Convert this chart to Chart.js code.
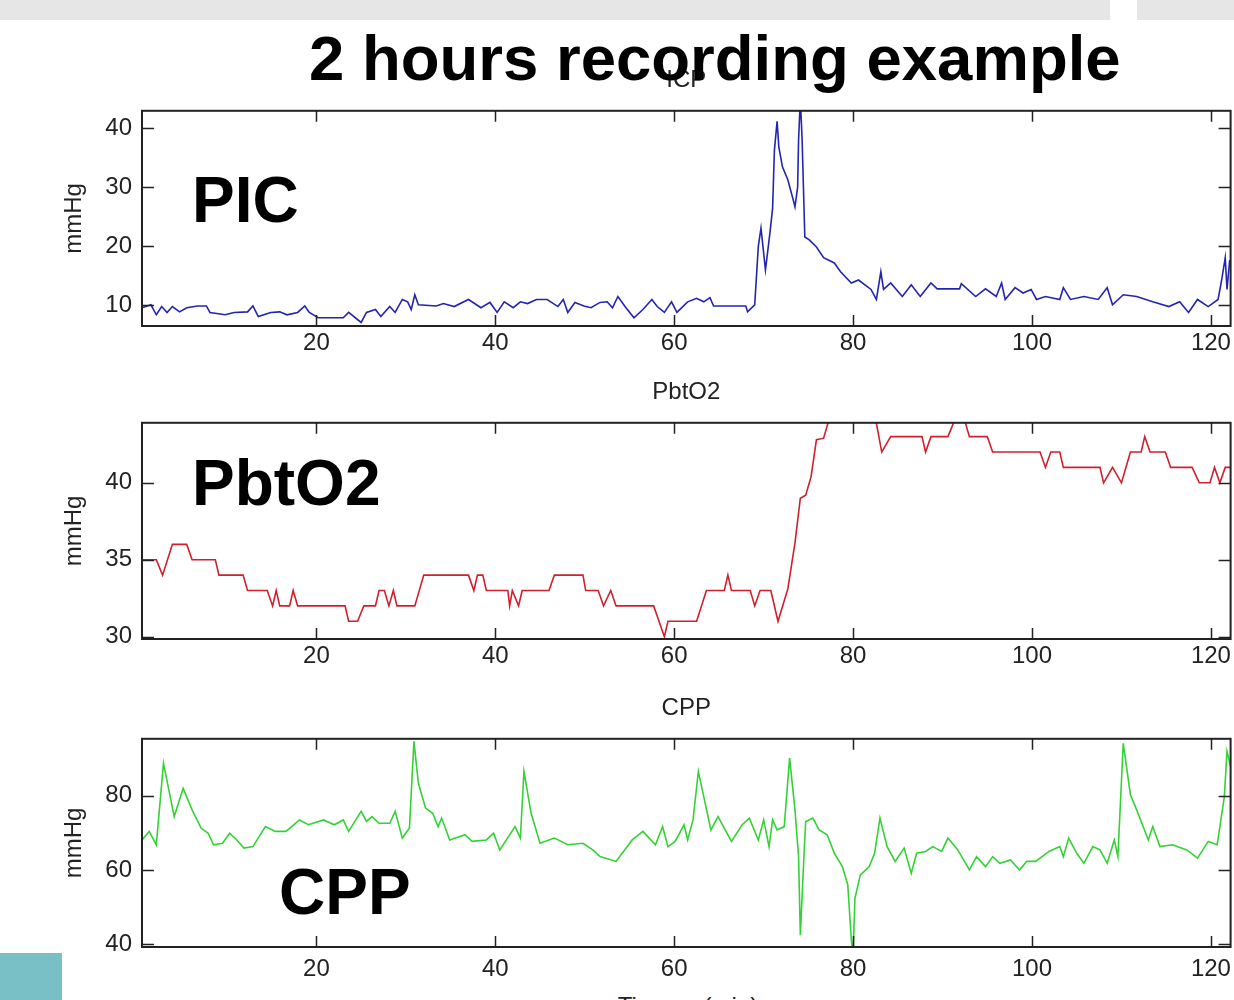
<!DOCTYPE html>
<html>
<head>
<meta charset="utf-8">
<script src="https://cdn.jsdelivr.net/npm/chart.js@4.4.1/dist/chart.umd.min.js"></script>
<style>
  html, body { margin: 0; padding: 0; background: #fff; overflow: hidden; }
  body { width: 1234px; height: 1000px; position: relative; font-family: "Liberation Sans", Arial, sans-serif; }
  .band { position: absolute; top: 0; height: 20px; background: #e6e6e6; }
  .panel { position: absolute; left: 0; width: 1234px; }
  .panel canvas { display: block; }
  .big { position: absolute; font-weight: bold; font-size: 64px; line-height: 1; color: #000; white-space: nowrap; z-index: 2; }
  .xlabel { position: absolute; left: 0; width: 1376px; top: 994px; text-align: center; font-size: 24px; line-height: 1; color: #222; }
  .teal { position: absolute; left: 0; top: 953px; width: 62px; height: 47px; background: #79c0c6; z-index: 2; }
</style>
</head>
<body>
<div class="band" style="left:0; width:1110px"></div>
<div class="band" style="left:1137px; width:97px"></div>

<div class="panel" style="top:66px"><canvas id="icpChart" width="1234" height="300"></canvas></div>
<div class="panel" style="top:378px"><canvas id="pbto2Chart" width="1234" height="301"></canvas></div>
<div class="panel" style="top:694px"><canvas id="cppChart" width="1234" height="293"></canvas></div>

<div class="big" style="left:309px; top:27px; font-size:63.5px">2 hours recording example</div>
<div class="big" style="left:192px; top:168px">PIC</div>
<div class="big" style="left:192px; top:451px">PbtO2</div>
<div class="big" style="left:279px; top:860px">CPP</div>
<div class="xlabel">Tiempo (min)</div>
<div class="teal"></div>

<script>
// x axis (minutes)
const xTicks = [20, 40, 60, 80, 100, 120];

// ICP
const icpTime = [
  0.5, 1.5, 2.1, 2.7, 3.3, 3.9, 4.7, 5.5, 6.7, 7.7,
  8.1, 9.8, 10.8, 12.3, 12.9, 13.5, 14.9, 15.9, 16.7, 17.9,
  18.7, 19.2, 20.2, 23.0, 23.6, 25.0, 25.6, 26.6, 27.2, 28.2,
  28.8, 29.6, 30.2, 30.6, 31.0, 31.4, 33.4, 34.2, 35.4, 37.0,
  38.4, 39.4, 40.2, 41.0, 42.0, 42.8, 43.6, 44.6, 45.8, 47.0,
  47.6, 48.1, 48.9, 49.9, 50.7, 51.7, 52.5, 53.1, 53.7, 54.5,
  55.5, 56.5, 57.5, 58.1, 58.9, 59.7, 60.3, 61.5, 62.5, 63.3,
  64.0, 64.4, 68.0, 68.2, 69.0, 69.4, 69.7, 70.2, 70.7, 71.0,
  71.2, 71.5, 71.7, 72.1, 72.7, 73.3, 73.5, 73.8, 73.9, 74.1,
  74.3, 74.6, 75.1, 75.9, 76.7, 77.9, 78.6, 79.8, 80.6, 82.0,
  82.6, 83.1, 83.4, 84.2, 85.5, 86.5, 87.5, 88.7, 89.4, 91.9,
  92.1, 93.7, 94.8, 96.0, 96.6, 97.0, 98.1, 99.0, 99.9, 100.5,
  101.5, 103.1, 103.5, 104.3, 105.8, 107.4, 108.4, 109.0, 110.2, 111.7,
  113.5, 115.3, 116.5, 117.5, 118.5, 119.7, 120.8, 121.2, 121.6, 121.8,
  122.1
];
const icpValues = [
  9.6, 10.1, 8.4, 9.8, 8.8, 9.8, 8.9, 9.6, 9.9, 9.9,
  8.8, 8.4, 8.8, 8.9, 9.9, 8.1, 8.8, 8.9, 8.4, 8.8,
  9.9, 8.8, 7.9, 7.9, 8.8, 7.1, 8.8, 9.3, 8.1, 9.8,
  8.8, 11.0, 10.6, 9.3, 11.8, 10.1, 9.9, 10.3, 9.8, 11.0,
  9.6, 10.5, 8.8, 10.6, 9.6, 10.6, 10.3, 11.0, 11.0, 9.8,
  11.0, 8.8, 10.5, 9.9, 9.6, 10.5, 10.6, 9.6, 11.5, 9.8,
  7.9, 9.3, 11.0, 9.8, 8.8, 10.6, 8.8, 10.6, 11.2, 10.6,
  11.3, 9.9, 9.9, 8.9, 10.1, 20.0, 23.1, 16.0, 22.3, 26.5,
  36.3, 41.2, 36.8, 33.5, 31.3, 27.9, 26.7, 30.1, 38.0, 45.0,
  38.0, 21.6, 21.1, 19.9, 18.1, 17.2, 15.7, 13.8, 14.3, 12.7,
  11.0, 15.7, 12.7, 13.8, 11.5, 13.5, 11.5, 13.8, 12.8, 12.8,
  13.7, 11.5, 12.8, 11.5, 13.8, 11.0, 13.0, 12.1, 12.7, 11.0,
  11.5, 11.0, 13.0, 11.0, 11.5, 11.0, 13.0, 10.1, 11.8, 11.5,
  10.6, 9.8, 10.6, 8.8, 11.0, 9.8, 11.0, 14.3, 18.1, 12.7,
  17.7
];
const icpTicks = [10, 20, 30, 40];

// PbtO2
const pbto2Time = [
  0.5, 2.1, 2.8, 3.9, 5.5, 6.1, 8.7, 9.1, 11.8, 12.3,
  14.5, 15.1, 15.5, 15.9, 17.0, 17.4, 17.9, 23.2, 23.6, 24.6,
  25.3, 26.6, 27.0, 27.6, 28.1, 28.6, 29.0, 31.0, 32.0, 37.0,
  37.6, 38.0, 38.6, 39.0, 41.4, 41.6, 41.9, 42.6, 43.0, 46.0,
  46.6, 49.8, 50.1, 51.5, 52.1, 52.9, 53.5, 57.7, 58.3, 58.9,
  59.3, 62.5, 63.6, 65.6, 66.0, 66.4, 68.5, 69.0, 69.6, 70.8,
  71.6, 72.7, 73.5, 74.1, 74.7, 75.3, 75.9, 76.7, 77.5, 80.0,
  82.4, 83.2, 84.2, 87.7, 88.1, 88.7, 90.6, 91.3, 92.5, 93.0,
  95.0, 95.6, 100.9, 101.5, 102.1, 103.1, 103.5, 107.6, 108.0, 109.0,
  110.0, 111.0, 112.2, 112.6, 113.2, 114.9, 115.5, 117.9, 118.7, 119.9,
  120.4, 121.0, 121.6, 122.2
];
const pbto2Values = [
  35, 35, 34, 36, 36, 35, 35, 34, 34, 33,
  33, 32, 33, 32, 32, 33, 32, 32, 31, 31,
  32, 32, 33, 33, 32, 33, 32, 32, 34, 34,
  33, 34, 34, 33, 33, 32, 33, 32, 33, 33,
  34, 34, 33, 33, 32, 33, 32, 32, 31, 30,
  31, 31, 33, 33, 34, 33, 33, 32, 33, 33,
  31, 33.1, 36.1, 39, 39.2, 40.4, 42.8, 42.9, 44.5, 45,
  44.5, 42, 43, 43, 42, 43, 43, 44, 44, 43,
  43, 42, 42, 41, 42, 42, 41, 41, 40, 41,
  40, 42, 42, 43, 42, 42, 41, 41, 40, 40,
  41, 40, 41, 41
];
const pbto2Ticks = [30, 35, 40];

// CPP
const cppTime = [
  0.5, 1.3, 2.1, 2.9, 3.5, 4.1, 5.1, 6.1, 7.1, 7.9,
  8.5, 9.5, 10.3, 11.1, 11.9, 12.9, 14.3, 15.4, 16.6, 18.1,
  19.1, 20.8, 22.0, 23.0, 23.6, 25.0, 25.6, 26.2, 27.0, 28.2,
  28.8, 29.6, 30.4, 30.9, 31.4, 32.2, 33.0, 33.6, 34.0, 34.9,
  36.6, 37.4, 39.0, 39.8, 40.5, 42.2, 42.8, 43.2, 44.0, 45.0,
  46.6, 48.1, 49.8, 50.9, 51.7, 53.5, 55.3, 56.5, 57.9, 58.7,
  59.3, 60.1, 61.1, 61.5, 62.1, 62.7, 63.3, 64.1, 64.9, 66.4,
  67.6, 68.4, 69.4, 70.0, 70.6, 71.0, 71.5, 72.3, 72.9, 73.5,
  73.9, 74.1, 74.5, 74.7, 75.5, 76.2, 77.1, 77.9, 78.8, 79.4,
  79.8, 80.0, 80.2, 80.8, 81.8, 82.4, 83.0, 83.8, 84.7, 85.7,
  86.5, 87.1, 88.1, 88.9, 89.9, 90.6, 91.7, 93.0, 93.8, 94.8,
  95.6, 96.4, 97.6, 98.6, 99.4, 100.4, 101.9, 103.1, 103.5, 104.1,
  105.0, 105.8, 106.8, 107.6, 108.4, 109.2, 109.6, 110.2, 111.0, 111.7,
  113.0, 113.5, 114.3, 115.7, 117.3, 118.5, 119.7, 120.7, 121.5, 121.8,
  122.2
];
const cppValues = [
  68.1, 70.4, 66.8, 88.8, 81.6, 74.4, 82.0, 76.2, 71.3, 69.9,
  66.8, 67.2, 69.9, 68.1, 65.9, 66.3, 71.7, 70.4, 70.4, 73.5,
  72.2, 73.5, 72.2, 73.5, 70.4, 75.8, 73.1, 74.4, 72.6, 72.6,
  75.8, 68.6, 71.3, 94.7, 83.4, 76.7, 75.3, 71.7, 74.0, 68.1,
  69.5, 67.7, 68.1, 69.9, 65.4, 71.7, 68.6, 86.6, 75.3, 67.2,
  68.6, 66.8, 67.2, 65.4, 63.6, 62.3, 68.1, 70.4, 66.8, 71.7,
  66.3, 67.7, 72.2, 68.1, 73.5, 86.6, 79.8, 70.8, 74.4, 67.7,
  72.2, 74.0, 68.1, 73.5, 66.3, 73.5, 70.8, 71.7, 90.2, 76.2,
  63.6, 42.4, 63.6, 73.1, 74.0, 70.8, 69.5, 64.5, 60.9, 56.0,
  41.1, 37.0, 52.3, 58.6, 60.9, 64.5, 74.0, 66.3, 62.3, 65.9,
  59.1, 64.5, 65.0, 66.3, 65.0, 68.6, 65.4, 60.0, 63.6, 60.9,
  63.6, 61.8, 62.7, 60.0, 62.3, 62.3, 65.0, 66.3, 63.6, 68.6,
  64.5, 61.8, 66.3, 65.4, 61.8, 68.1, 63.6, 94.2, 80.3, 76.2,
  68.1, 71.7, 66.3, 66.8, 65.4, 63.2, 67.7, 66.8, 79.8, 92.0,
  88.0
];
const cppTicks = [40, 60, 80];

const tickFont = {family: "'Liberation Sans', Arial, sans-serif", size: 24, weight: 'normal'};
const inkColor = '#222';

// matlab style box with inner tick marks
const boxPlugin = {
  id: 'matlabBox',
  afterDraw(chart) {
    const {ctx, chartArea: a, scales: {x, y}} = chart;
    ctx.save();
    ctx.strokeStyle = inkColor;
    ctx.lineWidth = 1.5;
    ctx.beginPath();
    x.ticks.forEach((t) => {
      const px = Math.round(x.getPixelForValue(t.value)) + 0.5;
      ctx.moveTo(px, a.top); ctx.lineTo(px, a.top + 11);
      ctx.moveTo(px, a.bottom); ctx.lineTo(px, a.bottom - 11);
    });
    y.ticks.forEach((t) => {
      const py = Math.round(y.getPixelForValue(t.value)) + 0.5;
      ctx.moveTo(a.left, py); ctx.lineTo(a.left + 12, py);
      ctx.moveTo(a.right, py); ctx.lineTo(a.right - 12, py);
    });
    ctx.stroke();
    ctx.lineWidth = 2;
    ctx.strokeRect(a.left, a.top, a.right - a.left, a.bottom - a.top);
    ctx.restore();
  }
};

// labelLineHeight only moves the x labels down, tick padding stays 3
function makeChart(id, title, times, values, color, yTicks, yMin, yMax, labelLineHeight){
  const points = times.map((t, i) => ({x: t, y: values[i]}));

  let config = {
    type: 'line',
    data: {
      datasets: [{
        data: points,
        borderColor: color,
        borderWidth: 1.6,
        pointRadius: 0,
        tension: 0,
        fill: false
      }]
    },
    options: {
      responsive: false,
      animation: false,
      layout: {
        padding: {left: 0, right: 1, top: 0, bottom: 0}
      },
      plugins: {
        legend: {display: false},
        tooltip: {enabled: false},
        title: {
          display: true,
          text: title,
          fullSize: false,
          color: inkColor,
          font: tickFont,
          padding: {top: 0, bottom: 16}
        }
      },
      scales: {
        x: {
          type: 'linear',
          min: 0.5,
          max: 122.2,
          afterBuildTicks: (s) => { s.ticks = xTicks.map((v) => ({value: v})); },
          afterFit: (s) => { s.height = 40; },
          grid: {display: false, drawTicks: false},
          border: {display: false},
          ticks: {
            color: inkColor,
            font: {...tickFont, lineHeight: labelLineHeight},
            padding: 3,
            maxRotation: 0,
            autoSkip: false
          }
        },
        y: {
          min: yMin,
          max: yMax,
          afterBuildTicks: (s) => { s.ticks = yTicks.map((v) => ({value: v})); },
          afterFit: (s) => { s.width = 142; },
          grid: {display: false, drawTicks: false},
          border: {display: false},
          ticks: {color: inkColor, font: tickFont, padding: 10},
          title: {
            display: true,
            text: 'mmHg',
            color: inkColor,
            font: tickFont,
            padding: {top: 60, bottom: 0}
          }
        }
      }
    },
    plugins: [boxPlugin]
  };

  return new Chart(document.getElementById(id), config);
}

makeChart('icpChart', 'ICP', icpTime, icpValues, '#2424b2', icpTicks, 6.5, 43, 1.2);
makeChart('pbto2Chart', 'PbtO2', pbto2Time, pbto2Values, '#d0202e', pbto2Ticks, 29.85, 43.9, 1.2);
makeChart('cppChart', 'CPP', cppTime, cppValues, '#34d234', cppTicks, 39.2, 95.4, 1.65);
</script>
</body>
</html>
